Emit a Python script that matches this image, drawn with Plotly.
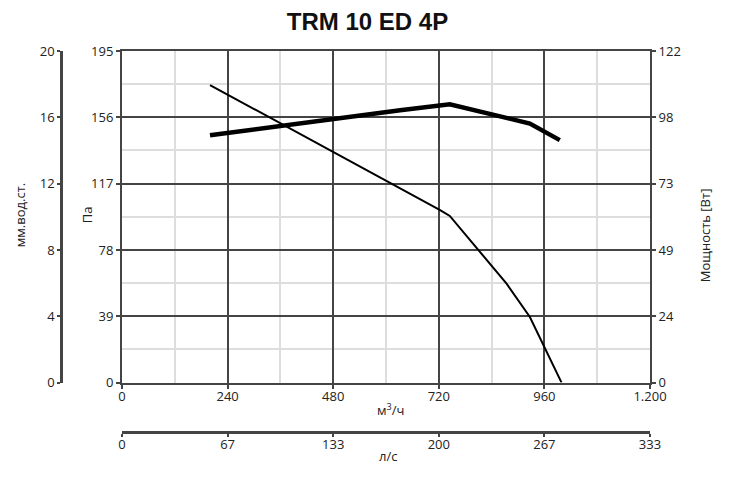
import plotly.graph_objects as go

# ---- data ----
flow_pressure = [200, 480, 723, 745, 810, 874, 927, 959, 999]          # м³/ч
pressure_pa   = [175, 135.8, 101.4, 98.0, 77.8, 58.2, 38.6, 21.0, 0]  # Па

flow_power = [200, 367, 480, 632, 745, 836, 927, 995]                        # м³/ч
power_w    = [91.0, 94.7, 97.2, 100.2, 102.4, 99.0, 95.3, 89.2]              # Вт

x_ticks      = [0, 240, 480, 720, 960, 1200]
x_ticktext   = ["0", "240", "480", "720", "960", "1.200"]
ls_ticktext  = ["0", "67", "133", "200", "267", "333"]
pa_ticks     = [0, 39, 78, 117, 156, 195]
mm_ticks     = [0, 4, 8, 12, 16, 20]
w_ticktext   = ["0", "24", "49", "73", "98", "122"]
W_MAX = 122
TITLE = "TRM 10 ED 4P"

# ---- layout geometry (page pixels; page has an 8px body margin) ----
OFF = 8
W, H = 750 - OFF, 479 - OFF
PL, PR = 61 - OFF, 650 - OFF        # paper left/right
PT, PB = 50.8 - OFF, 431.7 - OFF    # paper top/bottom
AX_L, AX_B = 122 - OFF, 382.3 - OFF  # main plot left / bottom

def px_x(px):
    return (px - OFF - PL) / (PR - PL)

def px_y(py):
    return (PB - (py - OFF)) / (PB - PT)

xdom = [(AX_L - PL) / (PR - PL), 1]
ydom = [(PB - AX_B) / (PB - PT), 1]

DARK = "#444444"
LIGHT = "#dddddd"
TXT = "#222222"
tickfont = dict(family="Open Sans", size=13, color=TXT)

fig = go.Figure()
fig.add_trace(go.Scatter(x=flow_pressure, y=pressure_pa, mode="lines",
                         line=dict(color="black", width=2), xaxis="x", yaxis="y",
                         showlegend=False))
fig.add_trace(go.Scatter(x=flow_power, y=power_w, mode="lines",
                         line=dict(color="black", width=4.5), xaxis="x", yaxis="y2",
                         showlegend=False))

fig.update_layout(
    width=W, height=H,
    margin=dict(l=PL, r=W - PR, t=PT, b=H - PB, pad=0),
    paper_bgcolor="white", plot_bgcolor="white",
    template="none",
    font=dict(family="Open Sans", color=TXT),
    title=dict(text="<b>" + TITLE + "</b>", x=(367.5 - OFF) / W, xref="container",
               y=1 - (22 - OFF) / H, yref="container", xanchor="center", yanchor="middle",
               font=dict(family="Liberation Sans", size=24, color="#111111")),
    xaxis=dict(domain=xdom, range=[0, 1200], anchor="y",
               tickvals=x_ticks, ticktext=x_ticktext, tickfont=tickfont,
               showgrid=True, gridcolor=DARK, gridwidth=1.5,
               minor=dict(dtick=120, tick0=0, showgrid=True, gridcolor=LIGHT, gridwidth=1.5),
               showline=True, linecolor=DARK, linewidth=2, mirror=True,
               ticks="outside", ticklen=4, tickcolor=DARK, tickwidth=2,
               ticklabelstandoff=-3,
               zeroline=False, automargin=False),
    xaxis2=dict(domain=xdom, range=[0, 1200], anchor="free", position=0,
                overlaying="x", side="bottom",
                tickvals=x_ticks, ticktext=ls_ticktext, tickfont=tickfont,
                showgrid=False, showline=True, linecolor=DARK, linewidth=2.5,
                ticks="outside", ticklen=3, tickcolor=DARK, tickwidth=2,
                ticklabelstandoff=-3,
                zeroline=False, automargin=False),
    yaxis=dict(domain=ydom, range=[0, 195], anchor="x",
               tickvals=pa_ticks, tickfont=tickfont,
               showgrid=True, gridcolor=DARK, gridwidth=1.5,
               minor=dict(dtick=19.5, tick0=0, showgrid=True, gridcolor=LIGHT, gridwidth=1.5),
               showline=True, linecolor=DARK, linewidth=2, mirror=True,
               ticks="outside", ticklen=4, tickcolor=DARK, tickwidth=2,
               zeroline=False, automargin=False),
    yaxis2=dict(range=[0, W_MAX], overlaying="y", anchor="x", side="right",
                tickvals=[i * W_MAX / 5 for i in range(6)], ticktext=w_ticktext,
                tickfont=tickfont, showgrid=False,
                showline=True, linecolor=DARK, linewidth=2,
                ticks="outside", ticklen=4, tickcolor=DARK, tickwidth=2,
                zeroline=False, automargin=False),
    yaxis3=dict(range=[0, 20], overlaying="y", anchor="free", position=0, side="left",
                tickvals=mm_ticks, tickfont=tickfont, showgrid=False,
                showline=True, linecolor=DARK, linewidth=2.5,
                ticks="outside", ticklen=3, tickcolor=DARK, tickwidth=2,
                zeroline=False, automargin=False),
)

# empty trace so yaxis3 / xaxis2 are rendered
fig.add_trace(go.Scatter(x=[None], y=[None], xaxis="x2", yaxis="y3",
                         showlegend=False, hoverinfo="skip"))

ann_font = dict(family="Open Sans", size=13, color=TXT)
annotations = [
    dict(text="мм.вод.ст.", x=px_x(20), y=px_y(215), textangle=-90),
    dict(text="Па", x=px_x(87), y=px_y(215), textangle=-90),
    dict(text="Мощность [Вт]", x=px_x(705), y=px_y(235), textangle=-90),
    dict(text="м<sup>3</sup>/ч", x=px_x(390), y=px_y(409), textangle=0),
    dict(text="л/с", x=px_x(388), y=px_y(456), textangle=0),
]
for a in annotations:
    fig.add_annotation(xref="paper", yref="paper", showarrow=False,
                       xanchor="center", yanchor="middle", font=ann_font, **a)

fig.write_html("out.html")
